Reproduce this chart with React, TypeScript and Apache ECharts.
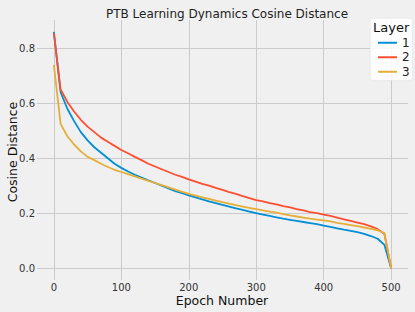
import React, { useEffect, useRef } from "react";
import * as echarts from "echarts";

const epochs = [0,10,20,30,40,50,60,70,80,90,100,110,120,130,140,150,160,170,180,190,200,210,220,230,240,250,260,270,280,290,300,310,320,330,340,350,360,370,380,390,400,410,420,430,440,450,460,470,480,490,500];
const layer1 = [0.86,0.64,0.58,0.535,0.495,0.465,0.44,0.42,0.40,0.38,0.365,0.352,0.34,0.33,0.32,0.31,0.30,0.29,0.28,0.273,0.265,0.258,0.25,0.243,0.237,0.23,0.224,0.218,0.212,0.206,0.20,0.195,0.19,0.185,0.18,0.176,0.172,0.168,0.164,0.16,0.155,0.15,0.145,0.14,0.136,0.131,0.125,0.117,0.107,0.085,0.0];
const layer2 = [0.855,0.65,0.605,0.57,0.54,0.515,0.495,0.475,0.46,0.445,0.43,0.418,0.405,0.393,0.38,0.37,0.36,0.35,0.34,0.332,0.323,0.315,0.307,0.3,0.292,0.285,0.277,0.27,0.262,0.255,0.248,0.243,0.237,0.232,0.226,0.221,0.215,0.21,0.204,0.2,0.195,0.19,0.184,0.178,0.172,0.166,0.16,0.152,0.142,0.125,0.0];
const layer3 = [0.74,0.525,0.48,0.45,0.425,0.405,0.393,0.38,0.368,0.358,0.35,0.342,0.334,0.326,0.318,0.31,0.302,0.294,0.286,0.278,0.27,0.264,0.258,0.252,0.246,0.24,0.235,0.229,0.224,0.219,0.215,0.21,0.206,0.202,0.197,0.192,0.188,0.184,0.18,0.177,0.174,0.17,0.165,0.161,0.157,0.153,0.148,0.143,0.138,0.128,0.0];
const layerNames = ["1", "2", "3"];
const xTicks = [0, 100, 200, 300, 400, 500];
const yTicks = [0, 0.2, 0.4, 0.6, 0.8];
const colors = ["#008fd5", "#fc4f30", "#e5ae38"];

const FONT = "DejaVu Sans";

export default function App() {
  const ref = useRef<HTMLDivElement>(null);
  useEffect(() => {
    const chart = echarts.init(ref.current!, null, { renderer: "svg" });
    const all = [layer1, layer2, layer3];
    chart.setOption({
      animation: false,
      backgroundColor: "#f0f0f0",
      textStyle: { fontFamily: FONT },
      title: {
        text: "PTB Learning Dynamics Cosine Distance",
        left: 222,
        textAlign: "center",
        top: 3,
        textStyle: { fontSize: 12, fontWeight: "normal", color: "#222", fontFamily: FONT },
      },
      grid: { left: 37, right: 7, top: 20, bottom: 32, containLabel: false, outerBoundsMode: "none" },
      xAxis: {
        type: "value",
        min: -25,
        max: 525,
        axisLine: { show: false },
        axisTick: { show: false, customValues: xTicks },
        axisLabel: { show: true, customValues: xTicks, fontSize: 10, lineHeight: 11, color: "#333", margin: 2, fontFamily: FONT, hideOverlap: false },
        splitLine: { show: true, lineStyle: { color: "#cbcbcb", width: 1 } },
      },
      yAxis: {
        type: "value",
        min: -0.043,
        max: 0.903,
        axisLine: { show: false },
        axisTick: { show: false, customValues: yTicks },
        axisLabel: {
          customValues: yTicks,
          fontSize: 10,
          color: "#333",
          margin: 2,
          fontFamily: FONT,
          formatter: (v: number) => v.toFixed(1),
        },
        splitLine: { show: true, lineStyle: { color: "#cbcbcb", width: 1 } },
      },
      legend: {
        orient: "vertical",
        left: 373,
        top: 31,
        icon: "rect",
        itemWidth: 19,
        itemHeight: 2,
        itemGap: 1,
        z: 10,
        textStyle: { fontSize: 12, color: "#222", lineHeight: 13.5, width: 12, align: "right", fontFamily: FONT },
        data: layerNames,
      },
      graphic: [
        {
          type: "rect",
          left: 370,
          top: 18,
          shape: { width: 42, height: 62, r: 2 },
          style: { fill: "rgba(255,255,255,0.85)", stroke: "#e0e0e0", lineWidth: 0.5 },
          z: 5,
        },
        {
          type: "text",
          left: 373,
          top: 21,
          style: { text: "Layer", fontSize: 13, fill: "#111", fontFamily: FONT },
          z: 6,
        },
        {
          type: "text",
          x: 222,
          y: 300,
          style: { text: "Epoch Number", fontSize: 12.5, lineHeight: 13, fill: "#111", fontFamily: FONT, align: "center", verticalAlign: "middle" },
        },
        {
          type: "text",
          x: 12,
          y: 152,
          rotation: Math.PI / 2,
          style: { text: "Cosine Distance", fontSize: 12.5, fill: "#111", fontFamily: FONT, align: "center", verticalAlign: "middle" },
        },
      ],
      series: all.map((d, i) => ({
        name: layerNames[i],
        type: "line",
        data: epochs.map((e, j) => [e, d[j]]),
        showSymbol: false,
        symbol: "none",
        color: colors[i],
        lineStyle: { width: 1.8, color: colors[i] },
        z: 2 + i,
      })),
    });
    return () => chart.dispose();
  }, []);
  return <div ref={ref} style={{ width: 415, height: 312, position: "absolute", left: 0, top: 0 }} />;
}
